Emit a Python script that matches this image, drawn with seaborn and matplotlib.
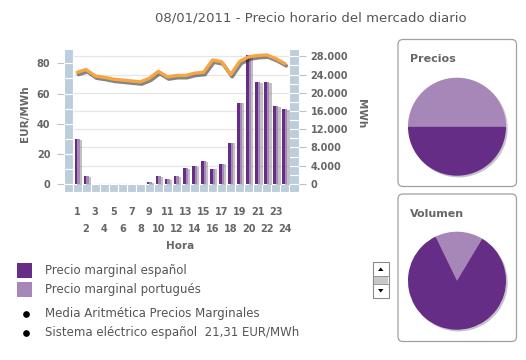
import numpy as np
import pandas as pd
import matplotlib
matplotlib.use("Agg")
import matplotlib.pyplot as plt
import matplotlib.patheffects as pe
from matplotlib.patches import Rectangle, FancyBboxPatch, Polygon
import seaborn as sns

# datos
horas = list(range(1, 25))
precio_es = [30, 5, 0, 0, 0, 0, 0, 0, 1, 5, 3, 5, 10.4, 12, 15, 10.2, 13.5, 27.5,
             54, 85.8, 67.6, 67.6, 51.4, 49.7]
precio_pt = [30, 5, 0, 0, 0, 0, 0, 0, 1, 5, 3, 5, 10.4, 12, 15, 10.2, 13.5, 27.5,
             54, 85.8, 67.6, 67.6, 51.4, 49.7]
energia_mwh = [24500, 25100, 23700, 23400, 23000, 22800, 22600, 22400, 23200, 24700,
               23500, 23800, 23800, 24300, 24500, 27200, 26800, 24000, 26900, 27900,
               28200, 28300, 27500, 26400]
series = ["Precio marginal español", "Precio marginal portugués"]
precios_pie = [21.31, 21.31]      # portugues, español
volumen_pie = [15.8, 84.2]        # portugues, español
yticks_eur = [0, 20, 40, 60, 80]
yticks_mwh = list(range(0, 28001, 4000))

titulo = "08/01/2011 - Precio horario del mercado diario"
nota1 = "Media Aritmética Precios Marginales"
nota2 = "Sistema eléctrico español  21,31 EUR/MWh"

morado = "#662d87"
lila = "#a687b8"
naranja = "#f7a543"
azul = "#bccddc"
gris_txt = "#666666"
gris_tick = "#b4c4d2"

sns.set_style("white")
plt.rcParams["font.family"] = ["DejaVu Sans"]

W, H = 526, 360
fig = plt.figure(figsize=(W / 100, H / 100), dpi=100)

# capa de fondo en pixeles (cajas, leyenda, scroll)
bg = fig.add_axes([0, 0, 1, 1])
bg.set_xlim(0, W)
bg.set_ylim(H, 0)
bg.axis("off")

for y0, y1 in [(39.5, 186.5), (194, 341.5)]:
    bg.add_patch(FancyBboxPatch((398, y0), 118.5, y1 - y0,
                                boxstyle="round,pad=0,rounding_size=5",
                                fc="white", ec="#a0a0a0", lw=0.9))
bg.text(410, 59.5, "Precios", fontsize=8, fontweight="bold", color=gris_txt, va="center")
bg.text(410, 214, "Volumen", fontsize=8, fontweight="bold", color=gris_txt, va="center")

# leyenda
for i, (lab, col) in enumerate(zip(series, [morado, lila])):
    y = 263 + i * 19
    bg.add_patch(Rectangle((17, y), 15, 14.5, fc=col, ec="none"))
    bg.text(45, y + 7.3, lab, fontsize=8.5, color="#555555", va="center")
for i, txt in enumerate([nota1, nota2]):
    y = 313.5 + i * 19
    bg.plot(26, y, "o", color="black", ms=3.8)
    bg.text(45, y, txt, fontsize=8.5, color="#555555", va="center")

# scroll
bg.add_patch(Rectangle((373, 262), 15.5, 36, fc="white", ec="#8a8a8a", lw=0.8))
bg.add_patch(Rectangle((373.5, 276), 14.5, 7.5, fc="#c8c8c8", ec="none"))
bg.plot([373, 388.5], [276, 276], color="#8a8a8a", lw=0.6)
bg.plot([373, 388.5], [283.5, 283.5], color="#8a8a8a", lw=0.6)
bg.add_patch(Polygon([[378, 271], [383.5, 271], [380.75, 267.5]], fc="black", ec="none"))
bg.add_patch(Polygon([[378, 289], [383.5, 289], [380.75, 292.5]], fc="black", ec="none"))

fig.text(311 / W, 1 - 18 / H, titulo, fontsize=9.5, color="#555555", ha="center", va="center")

# grafico principal
ax = fig.add_axes([63.5 / W, 1 - 192 / H, 235 / W, 143 / H])
ax2 = ax.twinx()
ylim1 = (-5.34, 89.54)
ylim2 = (-1766, 29611)
k = (ylim1[1] - ylim1[0]) / (ylim2[1] - ylim2[0])

df = pd.DataFrame({
    "hora": horas * 2,
    "precio": precio_es + precio_pt,
    "mercado": [series[0]] * len(horas) + [series[1]] * len(horas),
})
sns.barplot(data=df, x="hora", y="precio", hue="mercado", palette=[morado, lila],
            width=0.55, saturation=1, legend=False, ax=ax, zorder=3,
            edgecolor="none", linewidth=0)
for p in ax.patches:
    p.set_path_effects([pe.SimplePatchShadow(offset=(1.6, -0.6), shadow_rgbFace="#777777", alpha=0.45),
                        pe.Normal()])

pos = np.arange(len(horas))
sns.lineplot(x=pos, y=energia_mwh, ax=ax2, color=naranja, lw=2.4,
             path_effects=[pe.SimpleLineShadow(offset=(1.0, -1.6), shadow_color="#222222",
                                               alpha=0.55, linewidth=2.6),
                           pe.Normal()])

# rejilla (valores del eje derecho)
for v in yticks_mwh:
    ax.plot([-0.5, len(horas) - 0.5], [v * k, v * k], color="#e6e6e6", lw=0.9, zorder=1)

# columnas azules y fila inferior
ed = dict(fc=azul, ec="white", lw=0.8, zorder=2)
tops = list(range(0, 81, 10)) + [ylim1[1]]
for a, b in zip(tops[:-1], tops[1:]):
    ax.add_patch(Rectangle((-1.5, a), 1, b - a, **ed))
tops2 = list(range(0, 28001, 2000)) + [ylim2[1]]
for a, b in zip(tops2[:-1], tops2[1:]):
    ax.add_patch(Rectangle((len(horas) - 0.5, a * k), 1, (b - a) * k, **ed))
for i in range(-1, len(horas) + 1):
    ax.add_patch(Rectangle((i - 0.5, ylim1[0]), 1, -ylim1[0], **ed))

ax.set_xlim(-1.5, len(horas) + 0.5)
ax2.set_xlim(-1.5, len(horas) + 0.5)
ax.set_ylim(*ylim1)
ax2.set_ylim(*ylim2)

ax.set_yticks(yticks_eur)
ax.set_yticklabels([str(v) for v in yticks_eur])
ax2.set_yticks(yticks_mwh)
ax2.set_yticklabels([f"{v:,}".replace(",", ".") for v in yticks_mwh])

ax.set_xticks(pos[::2])
ax.set_xticklabels([str(h) for h in horas[::2]])
ax.set_xticks(pos[1::2], minor=True)
ax.set_xticklabels([str(h) for h in horas[1::2]], minor=True)

for a in (ax, ax2):
    for s in a.spines.values():
        s.set_visible(False)
    a.set_xlabel("")
    a.set_ylabel("")
ax.tick_params(axis="y", length=5, width=0.8, color=gris_tick, pad=4.5,
               labelsize=7, labelcolor=gris_txt, left=True)
ax2.tick_params(axis="y", length=5, width=0.8, color=gris_tick, pad=3.8,
                labelsize=7, labelcolor=gris_txt, right=True)
ax.tick_params(axis="x", which="major", length=0, pad=10.5, labelsize=7, labelcolor=gris_txt)
ax.tick_params(axis="x", which="minor", length=0, pad=23, labelsize=7, labelcolor=gris_txt)
for t in ax.get_yticklabels() + ax2.get_yticklabels() + ax.get_xticklabels() + ax.get_xticklabels(minor=True):
    t.set_fontweight("bold")

fig.text(180.5 / W, 1 - 246 / H, "Hora", fontsize=7.5, fontweight="bold", color=gris_txt,
         ha="center", va="center")
fig.text(25 / W, 1 - 114 / H, "EUR/MWh", fontsize=7.5, fontweight="bold", color=gris_txt,
         ha="center", va="center", rotation=90)
fig.text(361 / W, 1 - 114 / H, "MWh", fontsize=7.5, fontweight="bold", color=gris_txt,
         ha="center", va="center", rotation=-90)

# tartas
sombra = {"ox": 0.025, "oy": -0.025, "alpha": 0.25}
for cy, vals, start in [(126.7, precios_pie, 0), (280.7, volumen_pie, 59)]:
    pa = fig.add_axes([(457 - 50) / W, 1 - (cy + 50) / H, 100 / W, 100 / H])
    pa.pie(vals, colors=[lila, morado], startangle=start, counterclock=True,
           shadow=sombra, wedgeprops=dict(lw=0))
    pa.set_xlim(-1.02, 1.02)
    pa.set_ylim(-1.02, 1.02)

fig.savefig("out.png", dpi=100)
